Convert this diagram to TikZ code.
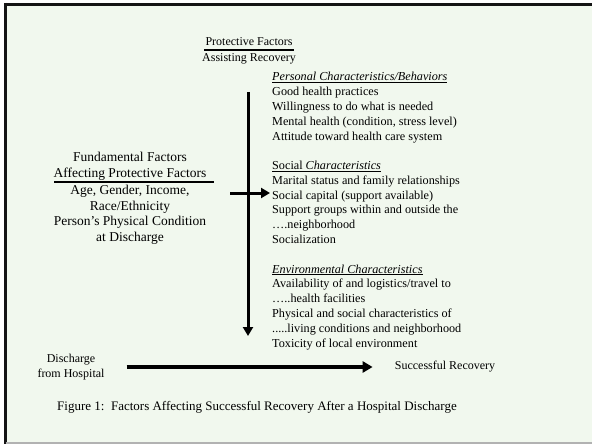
\documentclass[tikz,border=0pt]{standalone}
\usepackage{fontspec}
\setmainfont{Liberation Serif}
\usetikzlibrary{arrows.meta}
\definecolor{bg}{RGB}{241,248,238}
\definecolor{edge}{RGB}{20,20,20}
\tikzset{
  txt/.style={font=\fontsize{12}{15}\selectfont, inner sep=0pt, text=black},
  listtxt/.style={font=\fontsize{12.2}{14.78}\selectfont, inner sep=0pt, text=black},
  fundtxt/.style={font=\fontsize{13.5}{15.7}\selectfont, inner sep=0pt, text=black},
  captxt/.style={font=\fontsize{13}{15}\selectfont, inner sep=0pt, text=black},
  rule/.style={line width=1.6pt, black},
  bigarrow/.style={line width=3pt, -{Triangle[length=9pt,width=10pt]}},
}
\begin{document}
\begin{tikzpicture}[x=1pt,y=-1pt]
\useasboundingbox (0,0) rectangle (592,444);
\fill[white] (0,0) rectangle (592,444);
\fill[bg] (5.5,4.5) rectangle (592,443);
\draw[edge, line width=3pt] (4,4.5) -- (592,4.5);
\draw[edge, line width=3pt] (5.5,3) -- (5.5,444);
\draw[gray!60, line width=1.5pt] (5.5,443.2) -- (592,443.2);

% Protective factors heading
\node[txt, anchor=base] (protA) at (249,46) {Protective Factors};
\node[txt, anchor=base] (protB) at (249,62) {Assisting Recovery};
\draw[rule] ([xshift=-1pt,yshift=-3.5pt]protA.south west) -- ([xshift=1pt,yshift=-3.5pt]protA.south east);

% vertical arrow
\coordinate (vtop) at (248,92);
\coordinate (vbot) at (248,336);
\draw[bigarrow] (vtop) -- (vbot);

% right column
\node[listtxt, anchor=base west, align=left] (list) at (272,347) {%
\underline{\itshape Personal Characteristics/Behaviors}\\
Good health practices\\
Willingness to do what is needed\\
Mental health (condition, stress level)\\
Attitude toward health care system\\
~\\
\underline{Social \itshape Characteristics}\\
Marital status and family relationships\\
Social capital (support available)\\
Support groups within and outside the\\
….neighborhood\\
Socialization\\
~\\
\underline{\itshape Environmental Characteristics}\\
Availability of and logistics/travel to\\
…..health facilities\\
Physical and social characteristics of\\
.....living conditions and neighborhood\\
Toxicity of local environment};

% fundamental factors
\node[fundtxt, anchor=base, align=center] (fundA) at (130,177.5) {Fundamental Factors\\Affecting Protective Factors};
\node[fundtxt, anchor=base, align=center] (fundB) at (130,241.5) {Age, Gender, Income,\\Race/Ethnicity\\Person’s Physical Condition\\at Discharge};
\draw[rule] (54,182) -- (214,182);
\coordinate (harrowEnd) at (270,193);
\draw[bigarrow] ([xshift=24pt]fundB.east |- harrowEnd) -- (harrowEnd);

% bottom
\node[txt, anchor=base, align=center] (disch) at (71,377.5) {Discharge\\from Hospital};
\node[txt, anchor=base] (succ) at (445,369) {Successful Recovery};
\draw[line width=3.5pt, -{Triangle[length=10pt,width=11pt]}] ([xshift=22pt]disch.east |- 0,367) -- ([xshift=-22pt]succ.west |- 0,367);

\node[captxt, anchor=base] (cap) at (257,410) {Figure 1:\ \ Factors Affecting Successful Recovery After a Hospital Discharge};
\end{tikzpicture}
\end{document}
